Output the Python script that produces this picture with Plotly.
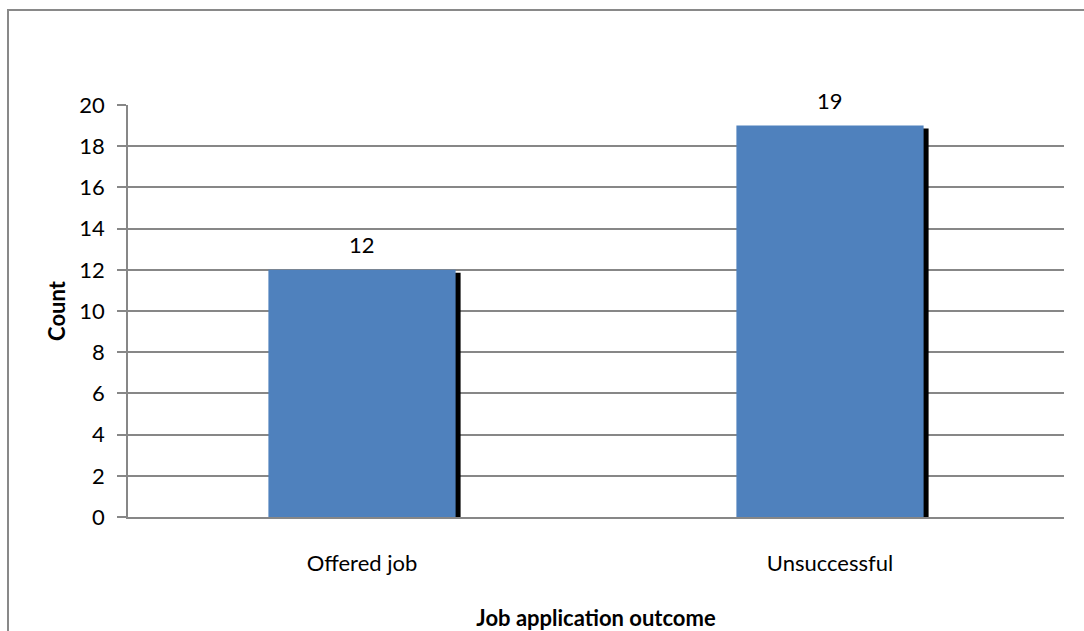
import plotly.graph_objects as go

# Job application outcomes
categories = ["Offered job", "Unsuccessful"]
counts = [12, 19]

y_ticks = list(range(0, 21, 2))

BAR_BLUE = "#4F81BD"
GRID_GREY = "#878787"
FONT = "Lato, Carlito, Calibri, sans-serif"
TEXT_SIZE = 22

W, H = 1084, 631
M_L, M_R, M_T, M_B = 128, 20, 105, 114
plot_w = W - M_L - M_R
plot_h = H - M_T - M_B

bar_width = 0.4
# drop shadow: small shift right and down, in axis units
shadow_dx = 5 / (plot_w / len(categories))
shadow_dy = 3 / (plot_h / 20)

fig = go.Figure()

fig.add_trace(go.Bar(
    x=categories,
    y=[v - shadow_dy for v in counts],
    width=bar_width,
    offset=-bar_width / 2 + shadow_dx,
    marker=dict(color="black", line=dict(width=0)),
    hoverinfo="skip",
    showlegend=False,
))

fig.add_trace(go.Bar(
    x=categories,
    y=counts,
    width=bar_width,
    offset=-bar_width / 2,
    marker=dict(color=BAR_BLUE, line=dict(width=0)),
    showlegend=False,
))

for cat, val in zip(categories, counts):
    fig.add_annotation(
        x=cat, y=val, text=str(val), showarrow=False,
        yanchor="middle", yshift=25,
        font=dict(family=FONT, size=TEXT_SIZE, color="black"),
    )

# outer chart frame
fig.add_shape(
    type="rect", xref="paper", yref="paper",
    x0=(8 - M_L) / plot_w, x1=(W + 10 - M_L) / plot_w,
    y0=-(H + 10 - M_T - plot_h) / plot_h, y1=(H - M_B - 10) / plot_h,
    line=dict(color="#898989", width=2), fillcolor="rgba(0,0,0,0)",
    layer="below",
)

fig.update_layout(
    width=W, height=H,
    margin=dict(l=M_L, r=M_R, t=M_T, b=M_B),
    paper_bgcolor="white",
    plot_bgcolor="white",
    barmode="overlay",
    font=dict(family=FONT, size=TEXT_SIZE, color="black"),
    xaxis=dict(
        type="category",
        automargin=False,
        showgrid=False,
        showline=True, linecolor=GRID_GREY, linewidth=2,
        ticks="",
        ticklabelstandoff=26,
        tickfont=dict(family=FONT, size=TEXT_SIZE),
        title=dict(text="<b>Job application outcome</b>", standoff=35,
                   font=dict(family=FONT, size=TEXT_SIZE)),
    ),
    yaxis=dict(
        range=[0, 20],
        automargin=False,
        tickvals=y_ticks,
        showgrid=True, gridcolor=GRID_GREY, gridwidth=1.5,
        showline=True, linecolor=GRID_GREY, linewidth=1.5,
        ticks="outside", ticklen=9, tickcolor=GRID_GREY, tickwidth=1.5,
        ticklabelstandoff=8,
        tickfont=dict(family=FONT, size=TEXT_SIZE),
        zeroline=False,
        title=dict(text="<b>Count</b>", standoff=8,
                   font=dict(family=FONT, size=TEXT_SIZE)),
    ),
)

fig.write_html("out.html")
